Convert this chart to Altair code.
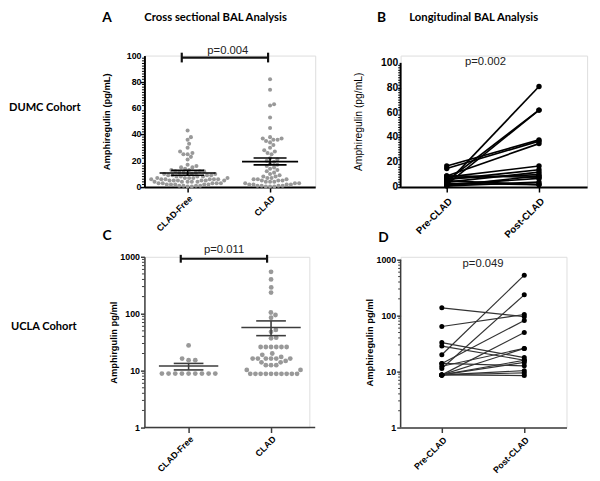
import math
import altair as alt
import pandas as pd

# ---------------- data ----------------
a_groups = ["CLAD-Free", "CLAD"]
a_free = [43, 38, 36, 33, 30, 27, 26, 25, 25, 23, 21, 17, 16, 15, 15, 14, 13, 13,
          12, 12, 12, 11, 11, 11, 10, 10, 10, 10, 9, 9, 9, 9, 8, 8, 8, 8, 7, 7, 7,
          7, 7, 6, 6, 6, 6, 6, 6, 5, 5, 5, 5, 5, 5, 4, 4, 4, 4, 4, 3, 3, 3, 3, 3,
          2, 2, 2, 2, 2, 1, 1, 1, 1, 0.5, 0.5]
a_clad = [82, 74, 63, 62, 53, 45, 38, 37, 37, 36, 36, 35, 34, 32, 30, 28, 27, 26,
          25, 22, 21, 20, 19, 18, 17, 16, 15, 14, 13, 12, 11, 10, 9, 8, 8, 7, 7, 6,
          6, 6, 5, 5, 5, 4, 4, 4, 3, 3, 3, 2, 2, 2, 2, 1, 1, 1, 1, 0.5, 0.5, 0.5]
a_mean = [10.7, 19.4]
a_sem_low = [9.0, 16.9]
a_sem_high = [12.7, 22.2]
a_p = "p=0.004"

b_times = ["Pre-CLAD", "Post-CLAD"]
b_pre = [3, 5, 2, 17, 15, 9, 8, 6, 4, 7, 9, 2, 1, 3, 5, 1]
b_post = [81, 62, 62, 38, 37, 35, 17, 14, 12, 10, 8, 7, 4, 2, 2, 9]
b_p = "p=0.002"

c_groups = ["CLAD-Free", "CLAD"]
c_free = [27.7, 16.3, 15.3, 15.3, 8.9, 8.9, 8.9, 8.9, 8.9, 8.9, 8.9, 8.9, 8.9]
c_clad = [545, 400, 290, 235, 105, 95, 85, 52, 48, 38, 37, 26, 26, 26, 26, 26, 26,
          20, 19, 17.4, 16.3, 16.3, 16.3, 16.3, 16.3, 16.3, 14.8, 14, 14, 12.5, 12.5,
          12.5, 10.3, 10.3, 8.8, 8.8, 8.8, 8.8, 8.8, 8.8, 8.8, 8.8, 8.8, 8.8]
c_mean = [12.05, 57.4]
c_sem_low = [10.3, 41.2]
c_sem_high = [13.4, 74.8]
c_p = "p=0.011"

d_times = ["Pre-CLAD", "Post-CLAD"]
d_pre = [138, 64, 20, 33, 28.6, 11.4, 14, 8.75, 12.5, 8.75, 8.75, 14, 8.75, 8.75, 8.75, 8.75]
d_post = [96, 105, 530, 17.8, 16, 236, 82, 50, 26, 26, 14.6, 12.7, 10.4, 8.5, 9.5, 16]
d_p = "p=0.049"

lin_ticks = [0, 20, 40, 60, 80, 100]
lin_minor = [t for t in range(2, 100, 2) if t % 20 != 0]
log_ticks = [1, 10, 100, 1000]
log_minor = [m * 10 ** e for e in range(3) for m in range(2, 10)]

AX = "Liberation Sans"
TF = "Lato"
one = pd.DataFrame({"k": [0]})


def swarm(values, ppu_y, ppu_x, d, log=False):
    """Beeswarm layout: horizontal offsets (x units) so dots of diameter d px don't overlap."""
    ys = [(math.log10(v) if log else v) * ppu_y for v in values]
    order = sorted(range(len(values)), key=lambda i: (ys[i], i))
    placed, offs = [], [0.0] * len(values)
    for i in order:
        y = ys[i]
        cands = [0.0]
        for px, py in placed:
            dy = y - py
            if abs(dy) < d:
                dx = math.sqrt(d * d - dy * dy)
                cands += [px + dx, px - dx]
        cands.sort(key=lambda c: (abs(c), -c))
        chosen = cands[-1]
        for c in cands:
            if all((c - px) ** 2 + (y - py) ** 2 >= d * d - 1e-6 for px, py in placed):
                chosen = c
                break
        placed.append((chosen, y))
        offs[i] = chosen / ppu_x
    return offs


def label(text, x, y, size, font=TF, weight="bold", align="center", baseline="middle"):
    return alt.Chart(one).mark_text(
        text=text, font=font, fontSize=size, fontWeight=weight, align=align,
        baseline=baseline, color="black"
    ).encode(x=alt.value(x), y=alt.value(y))


def xaxis(names, size, pad, tick, dom_w, color="black", domain=True):
    return alt.Axis(
        values=[1, 2], labelExpr=f"datum.value == 1 ? '{names[0]}' : '{names[1]}'",
        labelAngle=-45, labelAlign="right", labelBaseline="top", labelFont=AX,
        labelFontWeight="bold", labelFontSize=size, labelColor="black", labelPadding=pad,
        tickSize=tick, tickWidth=1.5, tickColor=color, domain=domain, domainColor=color,
        domainWidth=dom_w, title=None, grid=False, labelOverlap=False,
    )


def yaxis(values, title, lsize, tsize, tweight, tpad, tick, dom_w, domain=True, color="black",
          labels=True):
    return alt.Axis(
        values=values, title=title, titleFont=AX, titleFontSize=tsize, titleFontWeight=tweight,
        titleColor="black", titlePadding=tpad, labels=labels, labelFont=AX, labelFontSize=lsize,
        labelFontWeight="bold", labelColor="black", labelPadding=1, tickSize=tick,
        tickWidth=1.5, tickColor=color, domain=domain, domainColor=color, domainWidth=dom_w,
        grid=False, format="d", labelOverlap=False, labelFlush=False,
    )


def tick_labels(ticks, Y, size, xpos):
    return alt.Chart(pd.DataFrame({"t": ticks})).mark_text(
        font=AX, fontSize=size, fontWeight="bold", color="black", align="right", baseline="middle"
    ).encode(y=Y("t:Q"), x=alt.value(xpos), text=alt.Text("t:Q", format="d"))


def scatter_panel(groups, series, means, lows, highs, p, xdom, ydom, log, ppu_y, ds, dot,
                  ytitle, tsize, tpad, bracket, ptext_xy, mean_half, cap_half, line_color,
                  minor, ticks, lsize, dom_w, xline=None, text_ticks=None):
    rows = []
    for gi, vals in enumerate(series):
        offs = swarm(vals, ppu_y, 84, ds[gi], log)
        for v, o in zip(vals, offs):
            rows.append({"x": gi + 1 + o, "v": v})
    df = pd.DataFrame(rows)
    ys = alt.Scale(type="log", domain=ydom, nice=False) if log else alt.Scale(domain=ydom, nice=False, zero=False)
    xs = alt.Scale(domain=xdom, nice=False, zero=False)
    xa = xaxis(groups, 9, 2, 5, dom_w, line_color, domain=xline is None)
    ya = yaxis(ticks, ytitle, lsize, tsize, "bold", tpad, 4, dom_w, color=line_color,
               labels=text_ticks is None)
    X = lambda f: alt.X(f, scale=xs, axis=xa)
    Y = lambda f: alt.Y(f, scale=ys, axis=ya)
    pts = alt.Chart(df).mark_circle(size=dot, color="#999999", opacity=1).encode(
        x=X("x:Q"), y=Y("v:Q"))
    summ = pd.DataFrame({"c": [1, 2], "m": means, "lo": lows, "hi": highs})
    summ["m1"] = summ.c - mean_half
    summ["m2"] = summ.c + mean_half
    summ["k1"] = summ.c - cap_half
    summ["k2"] = summ.c + cap_half
    rule = dict(color=line_color, strokeWidth=1.6)
    mean_l = alt.Chart(summ).mark_rule(**rule).encode(x=X("m1:Q"), x2="m2:Q", y=Y("m:Q"))
    hi_l = alt.Chart(summ).mark_rule(**rule).encode(x=X("k1:Q"), x2="k2:Q", y=Y("hi:Q"))
    lo_l = alt.Chart(summ).mark_rule(**rule).encode(x=X("k1:Q"), x2="k2:Q", y=Y("lo:Q"))
    vert = alt.Chart(summ).mark_rule(**rule).encode(x=X("c:Q"), y=Y("lo:Q"), y2="hi:Q")
    bx1, bx2, by, bylo, byhi = bracket
    br = alt.Chart(one).mark_rule(color="#111", strokeWidth=2.2).encode(
        x=alt.datum(bx1), x2=alt.datum(bx2), y=alt.datum(by))
    cap1 = alt.Chart(one).mark_rule(color="#111", strokeWidth=2.2).encode(
        x=alt.datum(bx1), y=alt.datum(bylo), y2=alt.datum(byhi))
    cap2 = alt.Chart(one).mark_rule(color="#111", strokeWidth=2.2).encode(
        x=alt.datum(bx2), y=alt.datum(bylo), y2=alt.datum(byhi))
    ptxt = alt.Chart(one).mark_text(text=p, font=AX, fontSize=11.5, color="#222", baseline="middle").encode(
        x=alt.datum(ptext_xy[0]), y=alt.datum(ptext_xy[1]))
    mn = alt.Chart(pd.DataFrame({"t": minor})).mark_rule(color=line_color, strokeWidth=1).encode(
        y=Y("t:Q"), x=alt.value(-2.5), x2=alt.value(0))
    layers = [pts, mn, mean_l, hi_l, lo_l, vert, br, cap1, cap2, ptxt]
    if text_ticks is not None:
        layers.append(tick_labels(ticks, Y, lsize, text_ticks))
    if xline is not None:
        layers.append(alt.Chart(one).mark_rule(color=line_color, strokeWidth=dom_w).encode(
            x=alt.value(0), x2=alt.value(xline), y=alt.datum(ydom[0])))
    return layers


def paired_panel(times, pre, post, p, xdom, ydom, log, ytitle, tsize, tweight, tpad,
                 lsize, xlsize, xpad, ptext_xy, top_val, line_w, line_c, dot, minor, ticks, dom_w,
                 ax_color, tick, text_ticks=None):
    rows = []
    for i, (a, b) in enumerate(zip(pre, post)):
        rows.append({"id": i, "t": 1, "v": a})
        rows.append({"id": i, "t": 2, "v": b})
    df = pd.DataFrame(rows)
    ys = alt.Scale(type="log", domain=ydom, nice=False) if log else alt.Scale(domain=ydom, nice=False, zero=False)
    xs = alt.Scale(domain=xdom, nice=False, zero=False)
    xa = xaxis(times, xlsize, xpad, 5, dom_w, ax_color)
    ya = yaxis(ticks, ytitle, lsize, tsize, tweight, tpad, tick, dom_w, domain=False, color=ax_color,
               labels=text_ticks is None)
    X = lambda f: alt.X(f, scale=xs, axis=xa)
    Y = lambda f: alt.Y(f, scale=ys, axis=ya)
    lines = alt.Chart(df).mark_line(color=line_c, strokeWidth=line_w).encode(
        x=X("t:Q"), y=Y("v:Q"), detail="id:N")
    pts = alt.Chart(df).mark_circle(size=dot, color="black", opacity=1).encode(x=X("t:Q"), y=Y("v:Q"))
    dom = alt.Chart(one).mark_rule(color=ax_color, strokeWidth=dom_w).encode(
        x=alt.value(0), y=alt.datum(ydom[0]), y2=alt.datum(top_val))
    mn = alt.Chart(pd.DataFrame({"t": minor})).mark_rule(color=ax_color, strokeWidth=1).encode(
        y=Y("t:Q"), x=alt.value(-2.5), x2=alt.value(0))
    ptxt = alt.Chart(one).mark_text(text=p, font=AX, fontSize=11.5, color="#222", baseline="middle").encode(
        x=alt.datum(ptext_xy[0]), y=alt.datum(ptext_xy[1]))
    layers = [lines, mn, dom, pts, ptxt]
    if text_ticks is not None:
        layers.append(tick_labels(ticks, Y, lsize, text_ticks))
    return layers


# ---------------- panel A ----------------
A_W, A_H = 174, 134
a_layers = scatter_panel(
    a_groups, [a_free, a_clad], a_mean, a_sem_low, a_sem_high, a_p,
    xdom=[0.4762, 2.5476], ydom=[0, 100], log=False,
    ppu_y=1.34, ds=[4.3, 4.3], dot=17, ytitle="Amphiregulin (pg/mL)", tsize=9.5, tpad=29,
    bracket=(0.929, 1.976, 98.5, 94.8, 102.2), ptext_xy=(1.488, 103.7),
    mean_half=0.34, cap_half=0.2, line_color="black", minor=lin_minor, ticks=lin_ticks,
    lsize=9, dom_w=2, text_ticks=-3,
)
a_layers += [
    label("A", -38, -38, 14),
    label("Cross sectional BAL Analysis", 72.5, -38.5, 11.5),
    label("DUMC Cohort", -138, 53, 11.3, align="left"),
]
panelA = alt.layer(*a_layers).properties(width=A_W, height=A_H)

# ---------------- panel B ----------------
B_W, B_H = 190, 134
b_layers = paired_panel(
    b_times, b_pre, b_post, b_p, xdom=[0.5, 2.5213], ydom=[0, 105.85], log=False,
    ytitle="Amphiregulin  (pg/mL)", tsize=10.5, tweight="normal",
    tpad=34, lsize=10.5, xlsize=10, xpad=4, ptext_xy=(1.42, 100.3), top_val=100,
    line_w=1.7, line_c="black", dot=30, minor=lin_minor, ticks=lin_ticks, dom_w=2,
    ax_color="black", tick=3, text_ticks=-2.5,
)
b_layers += [
    label("B", -19.5, -38, 14),
    label("Longitudinal BAL Analysis", 74.5, -38.5, 11.5),
]
panelB = alt.layer(*b_layers).properties(width=B_W, height=B_H)

# ---------------- panel C ----------------
C_W, C_H = 168, 174
c_layers = scatter_panel(
    c_groups, [c_free, c_clad], c_mean, c_sem_low, c_sem_high, c_p,
    xdom=[0.4643, 2.4643], ydom=[1, 1000], log=True,
    ppu_y=58, ds=[6.8, 5.3], dot=24, ytitle="Amphirgulin pg/ml", tsize=9.5, tpad=1,
    bracket=(0.905, 1.952, 924, 788, 1082), ptext_xy=(1.43, 1321),
    mean_half=0.36, cap_half=0.18, line_color="#3c3c3c", minor=log_minor, ticks=log_ticks,
    lsize=9, dom_w=1.5, xline=174,
)
c_layers += [
    label("C", -38, -21, 14),
    label("UCLA Cohort", -136, 72, 11.3, align="left"),
]
panelC = alt.layer(*c_layers).properties(width=C_W, height=C_H)

# ---------------- panel D ----------------
D_W, D_H = 169, 174
d_layers = paired_panel(
    d_times, d_pre, d_post, d_p, xdom=[0.5, 2.512], ydom=[1, 1129], log=True,
    ytitle="Amphiregulin pg/ml", tsize=9.5, tweight="bold",
    tpad=2, lsize=9, xlsize=9, xpad=3, ptext_xy=(1.5, 851), top_val=1000,
    line_w=1.2, line_c="#333333", dot=26, minor=log_minor, ticks=log_ticks, dom_w=1.5,
    ax_color="#3c3c3c", tick=4,
)
d_layers += [label("D", -17.5, -19.5, 14)]
panelD = alt.layer(*d_layers).properties(width=D_W, height=D_H)

chart = alt.concat(
    panelA, panelB, panelC, panelD, columns=2, spacing={"row": 71, "column": 87},
    bounds="flush", align="none",
).properties(
    padding={"left": 0, "top": -2, "right": 4, "bottom": 4}
).configure_view(stroke=None).configure_axis(
    labelOverlap=False, labelFlush=False
).configure(background="white")

chart.save("out.html", embed_options={"renderer": "svg", "actions": False})
